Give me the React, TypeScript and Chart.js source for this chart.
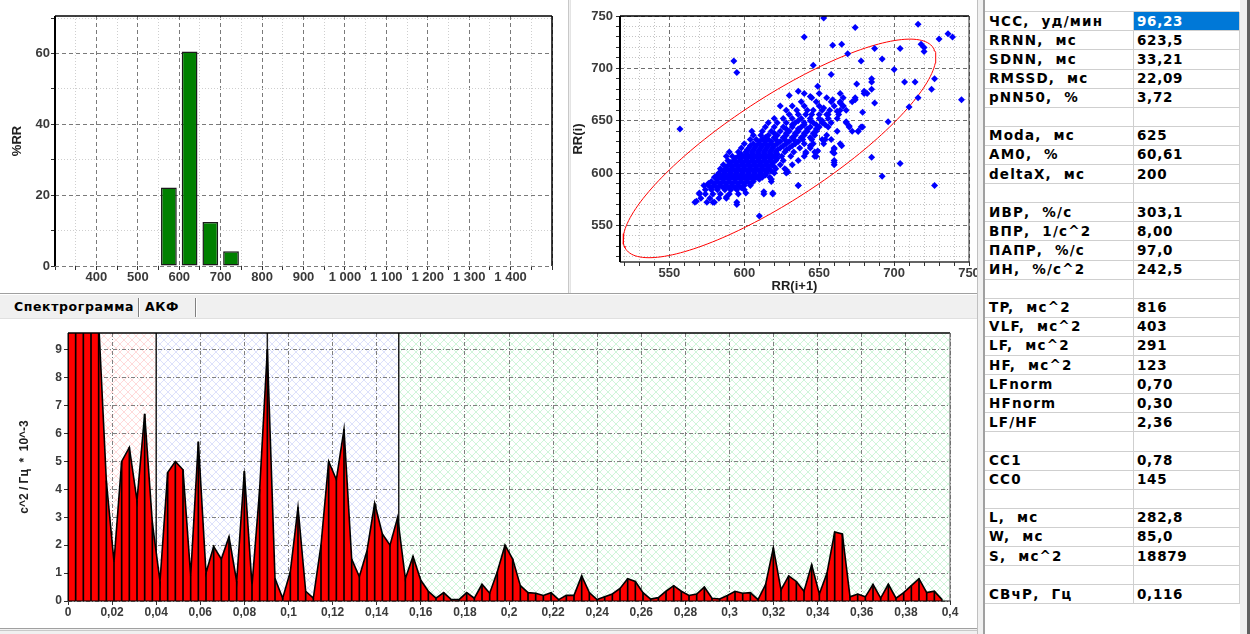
import React, { useEffect, useRef } from 'react';
import { Chart, registerables } from 'chart.js';

Chart.register(...registerables);

const AXIS_FONT = '"Liberation Sans", Arial, sans-serif';
const TABLE_FONT = '"DejaVu Sans", Verdana, sans-serif';

// ---------- Histogram ----------
const HIST_BIN_CENTERS = [575, 625, 675, 725];
const HIST_PERCENT = [22.2, 60.6, 12.4, 4.2];

// ---------- Scatterogram (rows: [RR(i), RR(i+1) values...]) ----------
const SCATTER_ROWS: number[][] = [
  [572, 567, 575, 580, 595],
  [576, 571, 577, 583, 588],
  [580, 570, 574, 579, 584, 590, 596, 613, 619],
  [584, 574, 578, 582, 587, 591, 595, 600],
  [586, 578, 582, 586, 590, 594, 598],
  [588, 573, 576, 580, 584, 588, 592, 596, 600, 604, 636],
  [590, 576, 580, 584, 588, 592, 596, 600, 604],
  [592, 578, 582, 586, 590, 594, 598, 602, 606, 618],
  [594, 582, 586, 590, 594, 598, 602, 606, 610],
  [596, 580, 584, 588, 592, 596, 600, 604, 608, 612, 617],
  [598, 582, 586, 590, 594, 598, 602, 606, 610, 614],
  [600, 583, 587, 591, 595, 599, 603, 607, 611, 615, 620, 628],
  [602, 586, 590, 594, 598, 602, 606, 610, 614, 618],
  [604, 584, 588, 592, 596, 600, 604, 608, 612, 616, 621, 627],
  [606, 588, 592, 596, 600, 604, 608, 612, 616, 620],
  [608, 586, 590, 594, 598, 602, 606, 610, 614, 618, 624, 632, 660],
  [610, 591, 595, 599, 603, 607, 611, 615, 619],
  [612, 589, 593, 597, 601, 605, 609, 613, 617, 621, 626, 636, 660],
  [614, 594, 598, 602, 606, 610, 614, 618, 622],
  [616, 588, 592, 596, 600, 604, 608, 612, 616, 620, 625, 631, 640, 648],
  [618, 598, 602, 606, 610, 614, 618, 622],
  [620, 590, 596, 601, 605, 609, 613, 617, 621, 627, 633, 641, 647, 659],
  [622, 602, 606, 610, 614, 618, 622, 628],
  [624, 598, 603, 607, 611, 615, 619, 624, 630, 637, 644, 660],
  [626, 604, 608, 612, 616, 620, 626, 632],
  [628, 600, 606, 610, 614, 618, 622, 628, 634, 640, 646, 653, 664],
  [630, 610, 614, 618, 624, 630, 636],
  [632, 604, 608, 612, 616, 621, 627, 633, 639, 645, 652, 658],
  [634, 614, 620, 626, 632, 638, 644],
  [636, 606, 611, 616, 622, 628, 634, 640, 647, 655],
  [638, 620, 628, 634, 640, 646],
  [640, 605, 612, 618, 624, 630, 636, 642, 648, 662, 672, 676],
  [642, 628, 636, 642, 648],
  [644, 614, 620, 626, 632, 638, 644, 650, 656, 670, 679],
  [646, 632, 640, 648, 654],
  [648, 616, 622, 628, 634, 640, 646, 652, 658, 668],
  [650, 636, 644, 652],
  [652, 620, 626, 632, 638, 644, 650, 656, 662],
  [656, 630, 636, 641, 645, 650, 656, 663],
  [660, 628, 635, 642, 646, 652, 657, 664, 668],
  [664, 624, 632, 640, 650, 660, 666],
  [668, 638, 648, 658, 664, 672],
  [672, 645, 655, 666, 674],
  [676, 640, 650, 664, 680],
];
// isolated points: [RR(i+1), RR(i)]
const SCATTER_EXTRA: number[][] = [
  [653, 748], [716, 742], [674, 739], [736, 733], [739, 730], [730, 728], [640, 730],
  [659, 722], [665, 723], [704, 719], [718, 723], [720, 720], [720, 716], [687, 719],
  [669, 714], [678, 707], [692, 709], [593, 707], [595, 696], [700, 699], [646, 703],
  [658, 694], [685, 690], [685, 687], [707, 687], [714, 687], [727, 690], [675, 685],
  [725, 680], [680, 678], [682, 676], [685, 680], [649, 683], [716, 672], [745, 670],
  [710, 663], [687, 667], [644, 673], [636, 678], [630, 674], [557, 642], [696, 649],
  [692, 597], [704, 609], [727, 588], [685, 615], [678, 644], [676, 640], [668, 649],
  [670, 645], [665, 626], [660, 623], [660, 619], [660, 610], [636, 588], [610, 559],
  [595, 570], [588, 577], [568, 573], [579, 572], [570, 581], [619, 581], [613, 582],
  [601, 581], [618, 594], [647, 616], [628, 603], [629, 601], [641, 619], [649, 621],
  [654, 632], [644, 626], [659, 670], [664, 667], [666, 664], [662, 659], [653, 662],
  [655, 656], [674, 670], [679, 658],
];
const RRNN = 623.5;
const ELLIPSE_L = 282.8;
const ELLIPSE_W = 85.0;

// ---------- Spectrum ----------
const FREQ_STEP = 0.003477;
const SPECTRUM = [
  14, 16, 15, 12, 10, 4.3, 1.4, 5.0, 5.5, 3.6,
  6.7, 2.8, 0.7, 4.6, 5.0, 4.7, 0.9, 5.7, 1.0, 1.95,
  1.5, 2.3, 0.7, 4.65, 0.55, 4.0, 9.0, 0.8, 0.1, 1.05,
  3.35, 0.35, 0.1, 2.0, 5.0, 4.35, 6.15, 1.5, 0.87, 1.8,
  3.5, 2.4, 2.0, 3.0, 0.8, 1.6, 0.75, 0.35, 0.1, 0.3,
  0.05, 0.05, 0.3, 0.1, 0.6, 0.28, 1.05, 2.0, 1.5, 0.55,
  0.3, 0.28, 0.2, 0.3, 0.05, 0.2, 0.2, 0.9, 0.3, 0.05,
  0.15, 0.25, 0.45, 0.8, 0.7, 0.3, 0.07, 0.12, 0.35, 0.55,
  0.35, 0.2, 0.25, 0.5, 0.1, 0.07, 0.2, 0.35, 0.28, 0.3,
  0.05, 0.6, 1.9, 0.4, 0.9, 0.7, 0.35, 1.3, 0.25, 1.0,
  2.47, 2.4, 0.15, 0.25, 0.15, 0.6, 0.1, 0.6, 0.1, 0.3,
  0.55, 0.8, 0.3, 0.35, 0.05,
];
const BAND_EDGES = [0, 0.04, 0.15, 0.4];
const BAND_COLORS = ['#ffdada', '#dde1fb', '#d0f5da'];
const LF_PEAK_FREQ = 0.0904;

// ---------- Table ----------
const TABLE_LABELS = [
  'ЧСС, уд/мин', 'RRNN, мс', 'SDNN, мс', 'RMSSD, мс', 'pNN50, %', '',
  'Moda, мс', 'AM0, %', 'deltaX, мс', '',
  'ИВР, %/с', 'ВПР, 1/с^2', 'ПАПР, %/с', 'ИН, %/с^2', '',
  'TP, мс^2', 'VLF, мс^2', 'LF, мс^2', 'HF, мс^2', 'LFnorm', 'HFnorm', 'LF/HF', '',
  'CC1', 'CC0', '',
  'L, мс', 'W, мс', 'S, мс^2', '',
  'СВчР, Гц',
];
const TABLE_VALUES = [
  '96,23', '623,5', '33,21', '22,09', '3,72', '',
  '625', '60,61', '200', '',
  '303,1', '8,00', '97,0', '242,5', '',
  '816', '403', '291', '123', '0,70', '0,30', '2,36', '',
  '0,78', '145', '',
  '282,8', '85,0', '18879', '',
  '0,116',
];

// ---------- helpers ----------
function isMult(v: number, step: number) {
  const r = v / step;
  return Math.abs(r - Math.round(r)) < 1e-6;
}
function fmtThousands(v: number) {
  const s = String(Math.round(v));
  return s.length > 3 ? s.slice(0, -3) + ' ' + s.slice(-3) : s;
}
function fmtComma(v: number) {
  const r = Math.round(v * 1000) / 1000;
  return String(r).replace('.', ',');
}

type Side = [string, number];
function framePlugin(id: string, sides: { top?: Side; right?: Side; bottom?: Side; left?: Side }) {
  return {
    id,
    afterDraw(chart: any) {
      const { ctx, chartArea: a } = chart;
      ctx.save();
      const line = (s: Side | undefined, x1: number, y1: number, x2: number, y2: number) => {
        if (!s) return;
        ctx.strokeStyle = s[0];
        ctx.lineWidth = s[1];
        ctx.setLineDash([]);
        ctx.beginPath();
        ctx.moveTo(x1, y1);
        ctx.lineTo(x2, y2);
        ctx.stroke();
      };
      line(sides.top, a.left, a.top, a.right, a.top);
      line(sides.bottom, a.left, a.bottom, a.right, a.bottom);
      line(sides.left, a.left, a.top, a.left, a.bottom);
      line(sides.right, a.right, a.top, a.right, a.bottom);
      ctx.restore();
    },
  };
}

const tickFont = { family: AXIS_FONT, size: 13, weight: 'bold' as const };

function majorMinorGrid(major: number, majorColor: string, minorColor: string) {
  return {
    grid: {
      color: (c: any) => (c.tick && isMult(c.tick.value, major) ? majorColor : minorColor),
      lineWidth: 1,
      drawTicks: true,
      tickLength: 4,
      tickColor: '#303030',
      offset: false,
    },
    border: {
      display: false,
      dash: (c: any) => (c.tick ? (isMult(c.tick.value, major) ? [4, 3] : [1, 2]) : []),
    },
  };
}

// ---------- chart configs ----------
function histConfig(): any {
  return {
    type: 'bar',
    data: {
      datasets: [
        {
          data: HIST_BIN_CENTERS.map((x, i) => ({ x, y: HIST_PERCENT[i] })),
          backgroundColor: '#008000',
          borderColor: '#1a1a1a',
          borderWidth: 1.5,
          borderSkipped: false,
          barPercentage: 0.95,
          categoryPercentage: 0.8,
        },
      ],
    },
    options: {
      animation: false,
      responsive: false,
      devicePixelRatio: 1,
      layout: { padding: { top: 16, right: 18, left: 0, bottom: 0 } },
      plugins: { legend: { display: false }, tooltip: { enabled: false } },
      scales: {
        x: {
          type: 'linear',
          min: 300,
          max: 1500,
          offset: false,
          ...majorMinorGrid(100, '#7a7a7a', '#cfcfcf'),
          ticks: {
            stepSize: 50,
            includeBounds: false,
            autoSkip: false,
            maxRotation: 0,
            padding: 0,
            font: tickFont,
            color: '#3a3a3a',
            callback: (v: number) => (isMult(v, 100) && v > 300 && v < 1500 ? fmtThousands(v) : ''),
          },
          afterFit: (s: any) => {
            s.height = 26;
          },
        },
        y: {
          type: 'linear',
          min: 0,
          max: 70.6,
          ...majorMinorGrid(20, '#7a7a7a', '#cfcfcf'),
          ticks: {
            stepSize: 10,
            includeBounds: false,
            padding: 1,
            font: tickFont,
            color: '#3a3a3a',
            callback: (v: number) => (isMult(v, 20) ? String(v) : ''),
          },
          title: {
            display: true,
            text: '%RR',
            color: '#202020',
            font: { family: AXIS_FONT, size: 13, weight: 'bold' },
            padding: { top: 10, bottom: 0 },
          },
          afterFit: (s: any) => {
            s.width = 55;
          },
        },
      },
    },
    plugins: [
      framePlugin('histFrame', {
        top: ['#000', 1.5],
        right: ['#000', 1.5],
        left: ['#000', 2],
      }),
    ],
  };
}

function scatterConfig(): any {
  const points: { x: number; y: number }[] = [];
  SCATTER_ROWS.forEach((row) => {
    for (let i = 1; i < row.length; i++) points.push({ x: row[i], y: row[0] });
  });
  SCATTER_EXTRA.forEach((p) => points.push({ x: p[0], y: p[1] }));

  const a = ELLIPSE_L / 2;
  const b = ELLIPSE_W / 2;
  const c45 = Math.SQRT1_2;
  const ellipse: { x: number; y: number }[] = [];
  for (let i = 0; i <= 180; i++) {
    const t = (i / 180) * Math.PI * 2;
    const u = a * Math.cos(t);
    const w = b * Math.sin(t);
    ellipse.push({ x: RRNN + u * c45 - w * c45, y: RRNN + u * c45 + w * c45 });
  }

  return {
    type: 'scatter',
    data: {
      datasets: [
        {
          data: ellipse,
          showLine: true,
          borderColor: '#ff0000',
          borderWidth: 1,
          pointRadius: 0,
          tension: 0,
          fill: false,
          order: 1,
        },
        {
          data: points,
          pointStyle: 'rectRot',
          pointRadius: 3.5,
          backgroundColor: '#0000ff',
          borderColor: '#0000ff',
          borderWidth: 0,
          order: 0,
        },
      ],
    },
    options: {
      animation: false,
      responsive: false,
      devicePixelRatio: 1,
      layout: { padding: { top: 16, right: 11, left: 0, bottom: 0 } },
      plugins: { legend: { display: false }, tooltip: { enabled: false } },
      scales: {
        x: {
          type: 'linear',
          min: 517,
          max: 750,
          ...majorMinorGrid(50, '#6e6e6e', '#c4c4c4'),
          ticks: {
            stepSize: 10,
            includeBounds: false,
            autoSkip: false,
            maxRotation: 0,
            padding: 0,
            font: tickFont,
            color: '#3a3a3a',
            callback: (v: number) => (isMult(v, 50) ? String(v) : ''),
          },
          title: {
            display: true,
            text: 'RR(i+1)',
            color: '#202020',
            font: { family: AXIS_FONT, size: 13, weight: 'bold' },
            padding: { top: 0, bottom: 0 },
          },
          afterFit: (s: any) => {
            s.height = 32;
          },
        },
        y: {
          type: 'linear',
          min: 515,
          max: 750,
          ...majorMinorGrid(50, '#6e6e6e', '#c4c4c4'),
          ticks: {
            stepSize: 10,
            includeBounds: false,
            autoSkip: false,
            padding: 3,
            font: tickFont,
            color: '#3a3a3a',
            callback: (v: number) => (isMult(v, 50) ? String(v) : ''),
          },
          title: {
            display: true,
            text: 'RR(i)',
            color: '#202020',
            font: { family: AXIS_FONT, size: 13, weight: 'bold' },
            padding: { top: 1, bottom: 0 },
          },
          afterFit: (s: any) => {
            s.width = 50;
          },
        },
      },
    },
    plugins: [
      framePlugin('scatFrame', {
        top: ['#000', 1.5],
        right: ['#303030', 1],
        bottom: ['#303030', 1.5],
        left: ['#000', 2],
      }),
    ],
  };
}

function makeHatch(color: string) {
  const c = document.createElement('canvas');
  c.width = 8;
  c.height = 8;
  const g = c.getContext('2d')!;
  g.fillStyle = '#ffffff';
  g.fillRect(0, 0, 8, 8);
  g.strokeStyle = color;
  g.lineWidth = 1;
  g.beginPath();
  g.moveTo(-1, -1);
  g.lineTo(9, 9);
  g.moveTo(9, -1);
  g.lineTo(-1, 9);
  g.stroke();
  return c;
}

function spectrumConfig(): any {
  const pts = SPECTRUM.map((v, i) => ({ x: i * FREQ_STEP, y: v }));
  let patterns: any[] | null = null;

  const bandsPlugin = {
    id: 'bands',
    beforeDraw(chart: any) {
      const { ctx, chartArea: a, scales } = chart;
      const x = scales.x;
      if (!patterns) patterns = BAND_COLORS.map((c) => ctx.createPattern(makeHatch(c), 'repeat'));
      ctx.save();
      for (let i = 0; i < BAND_EDGES.length - 1; i++) {
        const x0 = x.getPixelForValue(BAND_EDGES[i]);
        const x1 = x.getPixelForValue(BAND_EDGES[i + 1]);
        ctx.fillStyle = patterns[i];
        ctx.fillRect(x0, a.top, x1 - x0, a.bottom - a.top);
      }
      ctx.restore();
    },
    beforeDatasetsDraw(chart: any) {
      const { ctx, chartArea: a, scales } = chart;
      const x = scales.x;
      ctx.save();
      ctx.strokeStyle = '#202020';
      ctx.lineWidth = 1.5;
      [BAND_EDGES[1], LF_PEAK_FREQ, BAND_EDGES[2]].forEach((f) => {
        const px = x.getPixelForValue(f);
        ctx.beginPath();
        ctx.moveTo(px, a.top);
        ctx.lineTo(px, a.bottom);
        ctx.stroke();
      });
      ctx.restore();
    },
  };

  const dashGrid = {
    grid: {
      color: '#808080',
      lineWidth: 1,
      drawTicks: true,
      tickLength: 4,
      tickColor: '#303030',
      offset: false,
    },
    border: { display: false, dash: (c: any) => (c.tick ? [4, 2, 1, 2] : []) },
  };

  return {
    type: 'line',
    data: {
      datasets: [
        {
          type: 'bar',
          data: pts,
          backgroundColor: '#000000',
          borderWidth: 0,
          barThickness: 1,
          grouped: false,
          order: 0,
        },
        {
          type: 'line',
          data: pts,
          borderColor: '#000000',
          borderWidth: 1.6,
          backgroundColor: '#ff0000',
          fill: 'origin',
          pointRadius: 0,
          tension: 0,
          order: 1,
        },
      ],
    },
    options: {
      animation: false,
      responsive: false,
      devicePixelRatio: 1,
      layout: { padding: { top: 13, right: 25, left: 0, bottom: 0 } },
      plugins: { legend: { display: false }, tooltip: { enabled: false } },
      scales: {
        x: {
          type: 'linear',
          min: 0,
          max: 0.4,
          offset: false,
          ...dashGrid,
          ticks: {
            stepSize: 0.02,
            autoSkip: false,
            maxRotation: 0,
            padding: 0,
            font: { family: AXIS_FONT, size: 12, weight: 'bold' },
            color: '#3a3a3a',
            callback: (v: number) => fmtComma(v),
          },
          afterFit: (s: any) => {
            s.height = 19;
          },
        },
        y: {
          type: 'linear',
          min: 0,
          max: 9.6,
          ...dashGrid,
          ticks: {
            stepSize: 1,
            includeBounds: false,
            padding: 2,
            font: { family: AXIS_FONT, size: 12, weight: 'bold' },
            color: '#3a3a3a',
            callback: (v: number) => String(v),
          },
          title: {
            display: true,
            text: 'с^2 / Гц  *  10^-3',
            color: '#202020',
            font: { family: AXIS_FONT, size: 12, weight: 'bold' },
            padding: { top: 17, bottom: 0 },
          },
          afterFit: (s: any) => {
            s.width = 68;
          },
        },
      },
    },
    plugins: [
      bandsPlugin,
      framePlugin('specFrame', {
        top: ['#000', 1.5],
        right: ['#606060', 1],
        bottom: ['#000', 1],
        left: ['#000', 1],
      }),
    ],
  };
}

function ChartCanvas(props: { make: () => any; left: number; top: number; width: number; height: number }) {
  const ref = useRef<HTMLCanvasElement>(null);
  useEffect(() => {
    const chart = new Chart(ref.current as HTMLCanvasElement, props.make());
    return () => chart.destroy();
  }, []);
  return (
    <canvas
      ref={ref}
      width={props.width}
      height={props.height}
      style={{ position: 'absolute', left: props.left, top: props.top, width: props.width, height: props.height }}
    />
  );
}

function Box(p: { l: number; t: number; w: number; h: number; bg: string }) {
  return <div style={{ position: 'absolute', left: p.l, top: p.t, width: p.w, height: p.h, background: p.bg }} />;
}

const ROW_TOP = 11.7;
const ROW_H = 19.1;
const COL_L = 985;
const COL_MID = 1133;
const COL_R = 1239;

function StatsTable() {
  const cellText: React.CSSProperties = {
    position: 'absolute',
    fontFamily: TABLE_FONT,
    fontWeight: 'bold',
    fontSize: 13.5,
    letterSpacing: 1.2,
    wordSpacing: 6,
    lineHeight: `${ROW_H}px`,
    whiteSpace: 'nowrap',
    color: '#000',
  };
  return (
    <div>
      <Box l={COL_L} t={0} w={COL_R - COL_L + 1} h={634} bg="#ffffff" />
      {TABLE_LABELS.map((lab, i) => {
        const top = ROW_TOP + i * ROW_H;
        const sel = i === 0;
        return (
          <React.Fragment key={i}>
            {sel && <Box l={COL_MID + 1} t={top + 0.5} w={COL_R - COL_MID - 1} h={ROW_H - 1} bg="#0078d7" />}
            <div style={{ ...cellText, left: COL_L + 4, top: top, height: ROW_H }}>{lab}</div>
            <div
              style={{
                ...cellText,
                letterSpacing: 0.7,
                left: COL_MID + 4,
                top: top,
                height: ROW_H,
                color: sel ? '#ffffff' : '#000',
              }}
            >
              {TABLE_VALUES[i]}
            </div>
            <Box l={COL_L} t={top + ROW_H - 0.5} w={COL_R - COL_L} h={1} bg="#cfcfcf" />
          </React.Fragment>
        );
      })}
      <Box l={COL_L} t={ROW_TOP - 0.5} w={COL_R - COL_L} h={1} bg="#cfcfcf" />
      <Box l={COL_MID} t={ROW_TOP} w={1} h={TABLE_LABELS.length * ROW_H} bg="#cfcfcf" />
      <Box l={COL_R} t={ROW_TOP} w={1} h={TABLE_LABELS.length * ROW_H} bg="#cfcfcf" />
    </div>
  );
}

export default function App() {
  const tabText: React.CSSProperties = {
    position: 'absolute',
    top: 298,
    height: 18,
    lineHeight: '18px',
    fontFamily: TABLE_FONT,
    fontWeight: 'bold',
    fontSize: 12.5,
    letterSpacing: 0.6,
    color: '#000',
    whiteSpace: 'nowrap',
  };
  return (
    <div
      style={{
        position: 'absolute',
        left: 0,
        top: 0,
        width: 1250,
        height: 634,
        overflow: 'hidden',
        background: '#f0f0f0',
      }}
    >
      {/* top panels */}
      <Box l={0} t={0} w={568} h={293} bg="#ffffff" />
      <Box l={571} t={0} w={406} h={293} bg="#ffffff" />
      <ChartCanvas make={histConfig} left={0} top={0} width={570} height={292} />
      <ChartCanvas make={scatterConfig} left={570} top={0} width={410} height={294} />
      <Box l={568} t={0} w={1} h={293} bg="#c8c8c8" />
      <Box l={570} t={0} w={1} h={293} bg="#e4e4e4" />
      <Box l={0} t={293} w={977} h={1} bg="#a0a0a0" />
      <Box l={0} t={294} w={977} h={1} bg="#ffffff" />

      {/* tabs */}
      <div style={{ ...tabText, left: 14 }}>Спектрограмма</div>
      <Box l={138} t={298} w={1} h={19} bg="#808080" />
      <Box l={139} t={298} w={1} h={19} bg="#ffffff" />
      <div style={{ ...tabText, left: 145 }}>АКФ</div>
      <Box l={195} t={298} w={1} h={19} bg="#808080" />
      <Box l={196} t={298} w={1} h={19} bg="#ffffff" />
      <Box l={0} t={318} w={977} h={1} bg="#e0e0e0" />

      {/* spectrum */}
      <Box l={0} t={319} w={977} h={309} bg="#ffffff" />
      <ChartCanvas make={spectrumConfig} left={0} top={320} width={975} height={300} />
      <Box l={0} t={628} w={977} h={1} bg="#a0a0a0" />
      <Box l={0} t={630} w={977} h={1} bg="#c8c8c8" />

      {/* splitter */}
      <Box l={977} t={0} w={1} h={634} bg="#c0c0c0" />
      <Box l={978} t={0} w={5} h={634} bg="#f0f0f0" />
      <Box l={983} t={0} w={2} h={634} bg="#a0a0a0" />

      {/* table */}
      <StatsTable />
      <Box l={1247} t={0} w={3} h={634} bg="#606060" />
    </div>
  );
}
